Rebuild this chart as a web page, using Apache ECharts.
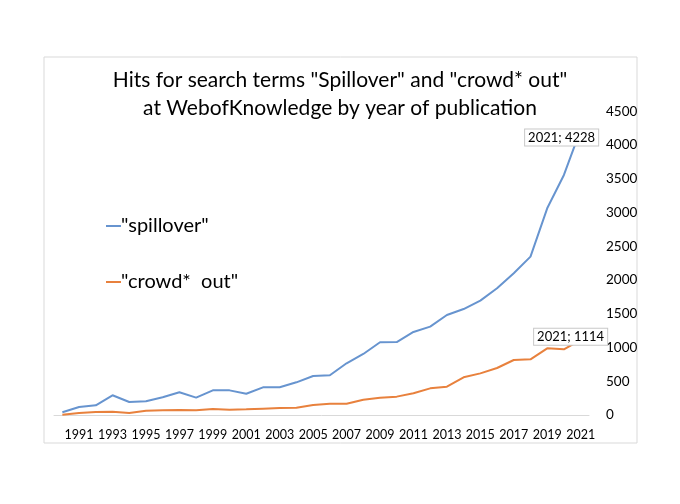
<!DOCTYPE html>
<html>
<head>
<meta charset="utf-8">
<script src="https://cdn.jsdelivr.net/npm/echarts@6/dist/echarts.min.js"></script>
<style>
html,body{margin:0;padding:0;background:#fff;}
#chart{width:680px;height:504px;}
</style>
</head>
<body>
<div id="chart"></div>
<script>
const years = [1990,1991,1992,1993,1994,1995,1996,1997,1998,1999,2000,2001,2002,2003,2004,2005,2006,2007,2008,2009,2010,2011,2012,2013,2014,2015,2016,2017,2018,2019,2020,2021];
const spillover = [40,118,143,292,193,203,262,336,257,365,365,315,410,410,484,578,588,766,904,1077,1081,1230,1309,1481,1570,1694,1877,2099,2346,3062,3556,4228];
const crowdOut = [5,30,44,49,30,64,69,74,69,89,79,84,94,104,108,148,168,168,227,257,272,321,395,420,558,617,696,815,825,988,973,1114];
const yTicks = {min: 0, max: 4500, interval: 500};
const seriesNames = ['"spillover"', '"crowd*  out"'];
const titleText = 'Hits for search terms "Spillover" and "crowd* out"\nat WebofKnowledge by year of publication';

const FONT = 'Lato, "Open Sans", sans-serif';
const chart = echarts.init(document.getElementById('chart'), null, {renderer: 'canvas'});

function withEndLabel(values, offset) {
  const last = values.length - 1;
  return values.map((v, i) => i === last ? {
    value: v,
    label: {
      show: true,
      position: 'inside',
      offset: offset,
      formatter: p => p.name + '; ' + p.value,
      fontFamily: FONT,
      fontSize: 13,
      color: '#000',
      backgroundColor: '#fff',
      borderColor: '#c8c8c8',
      borderWidth: 1,
      padding: [2, 3, 1, 3]
    }
  } : v);
}

chart.setOption({
  animation: false,
  backgroundColor: '#fff',
  graphic: [{
    type: 'rect',
    shape: {x: 44, y: 57, width: 593, height: 386},
    style: {fill: 'none', stroke: '#d9d9d9', lineWidth: 1},
    silent: true,
    z: -1
  }],
  title: {
    text: titleText,
    left: 'center',
    top: 61,
    textStyle: {fontFamily: FONT, fontSize: 21, fontWeight: 'normal', color: '#000', lineHeight: 28}
  },
  legend: {
    orient: 'vertical',
    left: 101,
    top: 211,
    itemGap: 36,
    itemWidth: 15,
    itemHeight: 2,
    icon: 'rect',
    textStyle: {fontFamily: FONT, fontSize: 20, color: '#000', padding: [0, 0, 0, -5]},
    data: seriesNames
  },
  grid: {left: 54, right: 91, top: 111.25, bottom: 89, containLabel: false},
  xAxis: {
    type: 'category',
    data: years,
    boundaryGap: true,
    axisLine: {show: true, lineStyle: {color: '#d9d9d9', width: 1}},
    axisTick: {show: false},
    axisLabel: {
      interval: (idx) => idx % 2 === 1,
      margin: 13,
      fontFamily: FONT,
      fontSize: 12.5,
      color: '#000'
    },
    splitLine: {show: false}
  },
  yAxis: {
    type: 'value',
    position: 'right',
    min: yTicks.min,
    max: yTicks.max,
    interval: yTicks.interval,
    axisLine: {show: false},
    axisTick: {show: false},
    splitLine: {show: false},
    axisLabel: {margin: 17, fontFamily: FONT, fontSize: 13.5, color: '#000', formatter: v => String(v)}
  },
  series: [
    {
      name: seriesNames[0],
      type: 'line',
      data: withEndLabel(spillover, [-19, 8]),
      showSymbol: true,
      symbol: 'circle',
      symbolSize: 0,
      lineStyle: {color: '#6794cf', width: 2},
      itemStyle: {color: '#6794cf'},
      z: 2
    },
    {
      name: seriesNames[1],
      type: 'line',
      data: withEndLabel(crowdOut, [-10, -3]),
      showSymbol: true,
      symbol: 'circle',
      symbolSize: 0,
      lineStyle: {color: '#e8813d', width: 2},
      itemStyle: {color: '#e8813d'},
      z: 3
    }
  ]
});
</script>
</body>
</html>
